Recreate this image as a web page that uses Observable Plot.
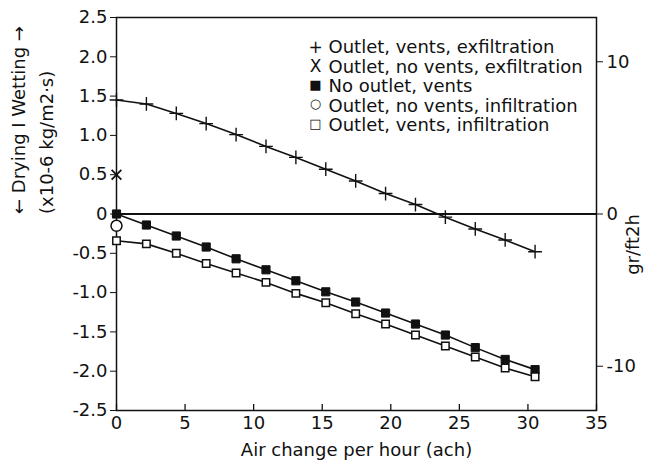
<!DOCTYPE html>
<html>
<head>
<meta charset="utf-8">
<script src="https://cdn.jsdelivr.net/npm/d3@7"></script>
<script src="https://cdn.jsdelivr.net/npm/@observablehq/plot@0.6"></script>
<style>
  html, body { margin: 0; padding: 0; background: white; }
</style>
</head>
<body>
<div id="chart"></div>
<script>
// Air change per hour (ach) for each plotted point
const ach = [0, 2.18, 4.36, 6.54, 8.72, 10.9, 13.08, 15.26, 17.44, 19.62, 21.8, 23.98, 26.16, 28.34, 30.52];
// Series values (x10-6 kg/m2·s)
const outletVentsExfil = [1.45, 1.40, 1.28, 1.15, 1.01, 0.86, 0.72, 0.57, 0.42, 0.26, 0.12, -0.04, -0.19, -0.33, -0.48];
const noOutletVents    = [0, -0.14, -0.28, -0.42, -0.57, -0.71, -0.85, -0.99, -1.12, -1.26, -1.40, -1.54, -1.70, -1.85, -1.98];
const outletVentsInfil = [-0.34, -0.38, -0.50, -0.63, -0.75, -0.87, -1.01, -1.13, -1.27, -1.40, -1.54, -1.68, -1.82, -1.96, -2.07];
// single-point series (at 0 ach)
const outletNoVentsExfil = [{x: 0, y: 0.5}];
const outletNoVentsInfil = [{x: 0, y: -0.15}];

// axes
const xTicks = [0, 5, 10, 15, 20, 25, 30, 35];
const yTicks = [2.5, 2.0, 1.5, 1.0, 0.5, 0, -0.5, -1.0, -1.5, -2.0, -2.5];
const grTicks = [10, 0, -10];                 // right axis, gr/ft2h
const grToSI = 0.1937;                        // 1 gr/ft2h = 0.1937 x10-6 kg/m2·s

const legendSymbols = ["+", "X", "■", "○", "□"];
const legendLabels = [
  "Outlet, vents, exfiltration",
  "Outlet, no vents, exfiltration",
  "No outlet, vents",
  "Outlet, no vents, infiltration",
  "Outlet, vents, infiltration"
];

const xLabel = "Air change per hour (ach)";
const yLabel1 = "← Drying I Wetting →";
const yLabel2 = "(x10-6 kg/m2·s)";
const y2Label = "gr/ft2h";

const toRows = (vals) => vals.map((v, i) => ({x: ach[i], y: v}));
const sPlus = toRows(outletVentsExfil);
const sFilled = toRows(noOutletVents);
const sOpen = toRows(outletVentsInfil);

const fmtY = d => d === 0 ? "0" : (d < 0 ? "-" : "") + Math.abs(d).toFixed(1);
const fmtGr = d => { const v = Math.round(d / grToSI); return v < 0 ? "-" + Math.abs(v) : String(v); };

const font = "DejaVu Sans, Liberation Sans, sans-serif";
const legendMarks = [];
legendLabels.forEach((lab, i) => {
  legendMarks.push(Plot.text([legendSymbols[i]], {
    frameAnchor: "top-left", dx: 199, dy: 23 + i * 19.5,
    text: d => d, textAnchor: "middle", fontSize: i >= 2 ? 13 : 17, fill: "#111"
  }));
  legendMarks.push(Plot.text([lab], {
    frameAnchor: "top-left", dx: 212, dy: 23 + i * 19.5,
    text: d => d, textAnchor: "start", fontSize: 18, fill: "#111"
  }));
});

const chart = Plot.plot({
  width: 660,
  height: 472,
  marginLeft: 116,
  marginRight: 64,
  marginTop: 17,
  marginBottom: 62,
  style: {fontFamily: font, fontSize: "18px", color: "#111", background: "white"},
  x: {domain: [0, 35]},
  y: {domain: [-2.5, 2.5]},
  marks: [
    Plot.frame({stroke: "#111", strokeWidth: 1.5}),
    Plot.ruleY([0], {stroke: "#111", strokeWidth: 1.8}),
    Plot.axisY(yTicks, {anchor: "left", tickFormat: fmtY, tickSize: 6, tickPadding: 3, label: null, fontSize: 18}),
    Plot.axisY(grTicks.map(g => g * grToSI), {anchor: "right", tickFormat: fmtGr, tickSize: 6, tickPadding: 4, label: null, fontSize: 18}),
    Plot.axisX(xTicks, {anchor: "bottom", tickSize: 0, tickPadding: 6, label: null, fontSize: 18}),
    Plot.tickX(xTicks, {x: d => d, insetTop: 387, stroke: "#111", strokeWidth: 1.3}),
    Plot.line(sPlus, {x: "x", y: "y", stroke: "#111", strokeWidth: 1.6}),
    Plot.line(sFilled, {x: "x", y: "y", stroke: "#111", strokeWidth: 1.6}),
    Plot.line(sOpen, {x: "x", y: "y", stroke: "#111", strokeWidth: 1.6}),
    Plot.dot(sPlus, {x: "x", y: "y", symbol: "plus", r: 4.5, stroke: "#111", strokeWidth: 1.4}),
    Plot.dot(outletNoVentsExfil, {x: "x", y: "y", symbol: "times", r: 4.5, stroke: "#111", strokeWidth: 1.8}),
    Plot.dot(sFilled, {x: "x", y: "y", symbol: "square", r: 4.6, fill: "#111", stroke: "#111", strokeWidth: 1}),
    Plot.dot(outletNoVentsInfil, {x: "x", y: "y", symbol: "circle", r: 5.5, fill: "white", stroke: "#111", strokeWidth: 1.5}),
    Plot.dot(sOpen, {x: "x", y: "y", symbol: "square", r: 4.2, fill: "white", stroke: "#111", strokeWidth: 1.5}),
    ...legendMarks,
    Plot.text([xLabel], {frameAnchor: "bottom", dy: 45, text: d => d, fontSize: 18, fill: "#111"}),
    Plot.text([yLabel1], {frameAnchor: "left", dx: -97, rotate: -90, text: d => d, fontSize: 18, fill: "#111"}),
    Plot.text([yLabel2], {frameAnchor: "left", dx: -69, rotate: -90, text: d => d, fontSize: 18, fill: "#111"}),
    Plot.text([y2Label], {frameAnchor: "right", dx: 37, rotate: -90, text: d => d, fontSize: 18, fill: "#111"})
  ]
});
document.getElementById("chart").appendChild(chart);
</script>
</body>
</html>
